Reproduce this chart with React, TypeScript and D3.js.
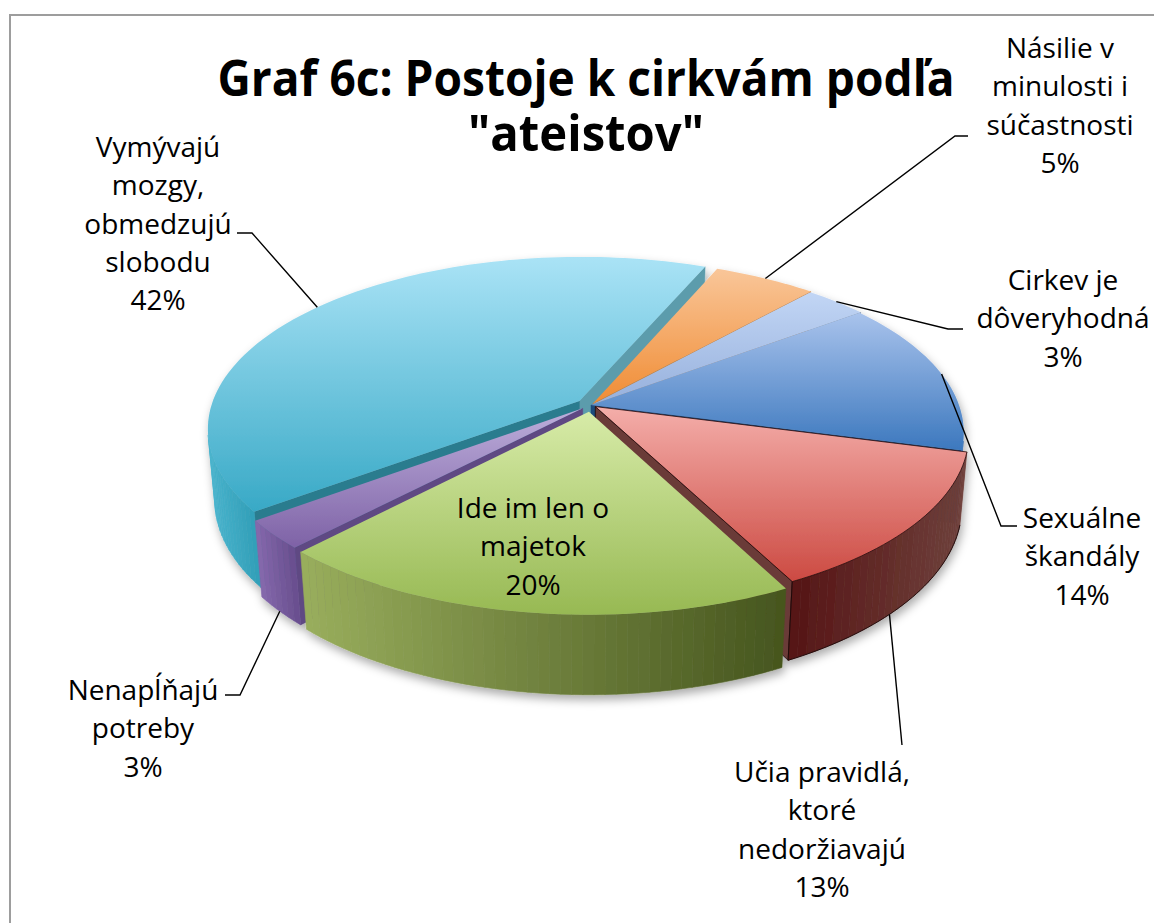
import React, { useLayoutEffect, useRef, useState } from 'react';
import * as d3 from 'd3';

// ---------- data ----------
const categories = [
  'Sexuálne škandály',
  'Učia pravidlá, ktoré nedoržiavajú',
  'Ide im len o majetok',
  'Nenapĺňajú potreby',
  'Vymývajú mozgy, obmedzujú slobodu',
  'Násilie v minulosti i súčastnosti',
  'Cirkev je dôveryhodná',
];
// shares (%); labels show them rounded
const values = [14.4, 13.3, 19.6, 2.7, 41.6, 5.2, 3.2];
const labelLines = [
  ['Sexuálne', 'škandály'],
  ['Učia pravidlá,', 'ktoré', 'nedoržiavajú'],
  ['Ide im len o', 'majetok'],
  ['Nenapĺňajú', 'potreby'],
  ['Vymývajú', 'mozgy,', 'obmedzujú', 'slobodu'],
  ['Násilie v', 'minulosti i', 'súčastnosti'],
  ['Cirkev je', 'dôveryhodná'],
];
const titleLines = ['Graf 6c: Postoje k cirkvám podľa', '"ateistov"'];

// ---------- styles ----------
const topColors = [
  ['#a9c3ec', '#3c78be'],
  ['#f4aeaa', '#cc4a42'],
  ['#d7eba8', '#97b953'],
  ['#bdaedb', '#7e62a6'],
  ['#aae3f6', '#38a9c6'],
  ['#f9c699', '#f08c34'],
  ['#c2d6f5', '#96b0dc'],
];
const sideColors = [
  ['#4a80c0', '#3a6ca8'],
  ['#561616', '#6e403b'],
  ['#98ad5c', '#47561f'],
  ['#8468ab', '#6a5090'],
  ['#4ab4cd', '#33a0b9'],
  ['#e8822a', '#d47420'],
  ['#8fa8d0', '#7f98c0'],
];
const cutColors = [
  ['#2a5a90', '#1e4b7b'],
  ['#6b3b37', '#6b3b37'],
  ['#6d8a35', '#6d8a35'],
  ['#5e4883', '#5e4883'],
  ['#2c7b8e', '#5b9cac'],
  ['#c87a30', '#c87a30'],
  ['#6d8099', '#6d8099'],
];
const explode = [0, 0.015, 0.04, 0.03, 0.04, 0.01, 0.005];

// label layout
const labelX = [1082, 822, 533, 143, 158, 1060, 1063];
const labelY = [528, 782, 518, 700, 157, 58, 290];
const leaderStart: ([number, number] | null)[] = [
  [1017, 526], [902, 745], null, [225, 695], [237, 233], [968, 136], [963, 329],
];
const leaderElbow = [1001, 902, 0, 240, 252, 955, 948];
const anchorFrac = [0.5, 0.6, 0.5, 0.5, 0.5, 0.5, 0.5];
const anchorBottom = [false, true, false, true, false, false, false];

// title layout
const titleX = 586;
const titleY = [96, 151];
const titleWidth = [737, 236];

// ---------- projection ----------
const CX = 591, CY = 405, S = 368;
const EL = (27.2 * Math.PI) / 180;
const DIST = 5.57, TH = 0.22;
const se = Math.sin(EL), ce = Math.cos(EL);
const START = (53.1 * Math.PI) / 180;
const CAM = [0, DIST * ce, DIST * se];

function proj(x: number, d: number, h: number): [number, number] {
  const Y = d * se - h * ce;
  const Z = d * ce + h * se;
  const k = DIST / (DIST - Z);
  return [CX + S * x * k, CY + S * Y * k];
}

type Face = { pts: [number, number][]; depth: number; fill: string; stroke: string; sw: number; key: string };

const FONT = "'Open Sans', 'Noto Sans', sans-serif";
const LH = 38.3;

export default function App() {
  const titleRefs = [useRef<SVGTextElement>(null), useRef<SVGTextElement>(null)];
  const [titleScale, setTitleScale] = useState<number[]>([0.86, 0.86]);

  useLayoutEffect(() => {
    const sc = titleRefs.map((r, i) => {
      const el = r.current;
      if (!el) return 0.86;
      const len = el.getComputedTextLength();
      return len > 0 ? titleWidth[i] / len : 0.86;
    });
    if (sc.some((v, i) => Math.abs(v - titleScale[i]) > 0.001)) setTitleScale(sc);
  }, []);

  const pie = d3.pie<number>().sort(null).startAngle(START).endAngle(START + 2 * Math.PI);
  const arcs = pie(values);
  const faces: Face[] = [];
  const tops: { d: string; i: number }[] = [];
  const anchors: [number, number][] = [];
  const line = d3.line();

  const dist = (p: number[]) => Math.hypot(p[0] - CAM[0], p[1] - CAM[1], p[2] - CAM[2]);
  const visible = (n: number[], p: number[]) =>
    n[0] * (CAM[0] - p[0]) + n[1] * (CAM[1] - p[1]) + n[2] * (CAM[2] - p[2]) > 0;

  arcs.forEach((a, i) => {
    const s = a.startAngle, e = a.endAngle, m = (s + e) / 2;
    const ox = explode[i] * Math.sin(m), od = -explode[i] * Math.cos(m);
    const P = (phi: number, h: number, r = 1) => [ox + r * Math.sin(phi), od - r * Math.cos(phi), h];
    const n = Math.max(2, Math.ceil((e - s) / ((Math.PI / 180) * 1.5)));
    const angs = d3.range(n + 1).map((j) => s + ((e - s) * j) / n);
    const red = i === 1;

    const topPts = [proj(ox, od, 0), ...angs.map((p) => proj(...(P(p, 0) as [number, number, number])))];
    tops.push({ d: line(topPts) + 'Z', i });

    const segs: { pts: [number, number][]; c: number[]; mx: number }[] = [];
    for (let j = 0; j < n; j++) {
      const p0 = angs[j], p1 = angs[j + 1], pm = (p0 + p1) / 2;
      const c = P(pm, -TH / 2);
      const nrm = [Math.sin(pm), -Math.cos(pm), 0];
      if (!visible(nrm, c)) continue;
      const pts = [P(p0, 0), P(p1, 0), P(p1, -TH), P(p0, -TH)].map((q) => proj(q[0], q[1], q[2]));
      segs.push({ pts, c, mx: (pts[0][0] + pts[1][0]) / 2 });
    }
    if (segs.length) {
      const xr = d3.extent(segs, (g) => g.mx) as [number, number];
      const col = d3.interpolateRgb(sideColors[i][0], sideColors[i][1]);
      segs.forEach((g, j) => {
        const t = xr[1] > xr[0] ? (g.mx - xr[0]) / (xr[1] - xr[0]) : 0;
        const f = col(t);
        faces.push({ pts: g.pts, depth: dist(g.c), fill: f, stroke: f, sw: 0.6, key: `s${i}-${j}` });
      });
    }

    const cuts = [
      { phi: s, nrm: [-Math.cos(s), -Math.sin(s), 0], col: cutColors[i][0] },
      { phi: e, nrm: [Math.cos(e), Math.sin(e), 0], col: cutColors[i][1] },
    ];
    cuts.forEach((cf, k) => {
      const c = P(cf.phi, -TH / 2, 0.5);
      if (!visible(cf.nrm, c)) return;
      const pts = [P(0, 0, 0), P(cf.phi, 0), P(cf.phi, -TH), P(0, -TH, 0)].map((q) => proj(q[0], q[1], q[2]));
      faces.push({
        pts, depth: dist(c), fill: cf.col,
        stroke: red ? '#1a0808' : cf.col, sw: red ? 0.8 : 0.5, key: `c${i}-${k}`,
      });
    });

    const pa = s + (e - s) * anchorFrac[i];
    const q = P(pa, anchorBottom[i] ? -TH : 0);
    anchors.push(proj(q[0], q[1], q[2]));
  });

  faces.sort((a, b) => b.depth - a.depth);

  const redArc = arcs[1];
  const rm = (redArc.startAngle + redArc.endAngle) / 2;
  const rox = explode[1] * Math.sin(rm), rod = -explode[1] * Math.cos(rm);
  const redAngs = d3.range(41).map((j) => redArc.startAngle + ((redArc.endAngle - redArc.startAngle) * j) / 40);
  const redBottom = redAngs.map((p) => proj(rox + Math.sin(p), rod - Math.cos(p), -TH));
  const redEnd = [proj(rox + Math.sin(redArc.endAngle), rod - Math.cos(redArc.endAngle), 0),
    proj(rox + Math.sin(redArc.endAngle), rod - Math.cos(redArc.endAngle), -TH)];

  return (
    <svg width={1154} height={923} style={{ position: 'absolute', left: 0, top: 0, display: 'block', background: '#fff' }}>
      <defs>
        {topColors.map((c, i) => (
          <linearGradient key={i} id={`tg${i}`} x1="0" y1="0" x2="0" y2="1">
            <stop offset="0" stopColor={c[0]} />
            <stop offset="1" stopColor={c[1]} />
          </linearGradient>
        ))}
        <filter id="shadow" x="-10%" y="-10%" width="125%" height="135%">
          <feDropShadow dx="2" dy="5" stdDeviation="5" floodColor="#000" floodOpacity="0.33" />
        </filter>
      </defs>

      <rect x={10} y={15} width={1200} height={1000} fill="#fff" stroke="#9d9d9d" strokeWidth={2} />

      <g fontFamily={FONT} fontWeight={700} fill="#000" textAnchor="middle" fontSize={50}>
        {titleLines.map((t, i) => (
          <text key={i} ref={titleRefs[i]} x={0} y={0}
            transform={`translate(${titleX},${titleY[i]}) scale(${titleScale[i]},1)`}>{t}</text>
        ))}
      </g>

      <g filter="url(#shadow)">
        {faces.map((f) => (
          <path key={f.key} d={line(f.pts) + 'Z'} fill={f.fill} stroke={f.stroke} strokeWidth={f.sw} strokeLinejoin="round" />
        ))}
        {tops.map((t) => (
          <path key={`t${t.i}`} d={t.d} fill={`url(#tg${t.i})`}
            stroke={t.i === 1 ? '#2a0a0a' : 'none'} strokeWidth={t.i === 1 ? 0.8 : 0} />
        ))}
      </g>
      <path d={line(redBottom) || ''} fill="none" stroke="#1a0808" strokeWidth={0.9} />
      <path d={line(redEnd) || ''} fill="none" stroke="#1a0808" strokeWidth={0.9} />

      <g stroke="#000" strokeWidth={1.4} fill="none">
        {leaderStart.map((st, i) =>
          st ? (
            <polyline key={i} points={`${st[0]},${st[1]} ${leaderElbow[i]},${st[1]} ${anchors[i][0]},${anchors[i][1]}`} />
          ) : null
        )}
      </g>

      <g fontFamily={FONT} fontSize={28} fill="#000" textAnchor="middle">
        {categories.map((c, i) => (
          <text key={c} x={labelX[i]} y={labelY[i]}>
            {[...labelLines[i], `${Math.round(values[i])}%`].map((ln, j) => (
              <tspan key={j} x={labelX[i]} dy={j === 0 ? 0 : LH}>{ln}</tspan>
            ))}
          </text>
        ))}
      </g>
    </svg>
  );
}
